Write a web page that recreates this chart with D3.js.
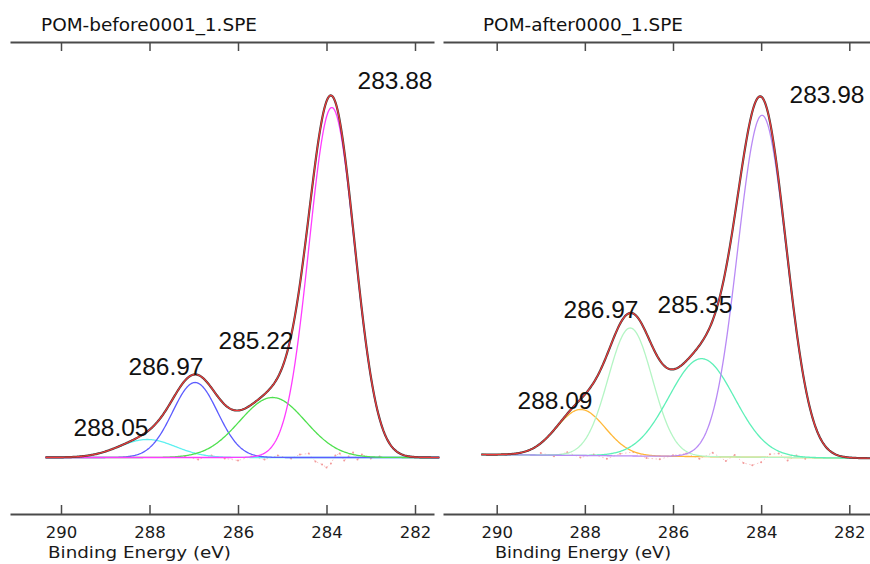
<!DOCTYPE html>
<html><head><meta charset="utf-8">
<script src="https://cdn.jsdelivr.net/npm/d3@7"></script>
<style>
html,body{margin:0;padding:0;background:#fff;}
svg{display:block;}
</style></head>
<body>
<svg id="chart" width="870" height="564"></svg>
<script>
// ---------------- data ----------------
const tickValues = [290, 288, 286, 284, 282];
const axisTitle = "Binding Energy (eV)";

const leftTitle = "POM-before0001_1.SPE";
const leftCenters = [283.88, 285.22, 286.97, 288.05];
const leftHeights = [350, 60, 75, 18];
const leftFwhm    = [1.21, 1.75, 1.2, 1.5];
const leftLabels  = ["283.88", "285.22", "286.97", "288.05"];
const leftColors  = ["#ff3cff", "#4fe04f", "#5c5cff", "#5ef0f0"];
const leftBgEnergy = [290.35, 281.4];
const leftBgValue  = [0, 0];
const leftResidE = [287.2, 286.9, 286.6, 286.3, 286.0, 285.7, 285.4, 285.1, 284.8, 284.6, 284.4, 284.25, 284.1, 284.0, 283.9, 283.8, 283.7, 283.6, 283.5, 283.4, 283.3, 283.2, 283.0, 282.8];
const leftResidV = [1, -2, 2, -1, -3, 1, -2, 2, -1, 3, 4, -4, -7, -10, -6, 2, 4, -3, 1, 5, -2, 3, -1, 1];

const rightTitle = "POM-after0000_1.SPE";
const rightCenters = [283.98, 285.35, 286.97, 288.09];
const rightHeights = [342, 98, 128, 46];
const rightFwhm    = [1.3, 1.75, 1.18, 1.3];
const rightLabels  = ["283.98", "285.35", "286.97", "288.09"];
const rightColors  = ["#b98af5", "#5ef0b8", "#b4f5c4", "#ffb838"];
const rightBgEnergy = [290.35, 281.5];
const rightBgValue  = [3.8, 0];
const rightResidE = [289.0, 288.7, 288.4, 288.1, 287.8, 287.5, 287.2, 286.9, 286.6, 286.3, 286.0, 285.7, 285.4, 285.1, 284.8, 284.6, 284.4, 284.2, 284.0, 283.8, 283.6, 283.4, 283.2, 283.0];
const rightResidV = [2, -1, 3, -2, 1, -3, 2, 4, -2, -3, 1, 3, -2, 4, -4, 2, -6, -8, -5, 3, 4, -3, 2, -1];

// ---------------- layout ----------------
const svg = d3.select("#chart");
const panels = [
  {title: leftTitle, centers: leftCenters, heights: leftHeights, fwhm: leftFwhm, labels: leftLabels, colors: leftColors,
   bgE: leftBgEnergy, bgV: leftBgValue, resE: leftResidE, resV: leftResidV,
   px290: 61, px282: 415, lineL: 10, lineR: 434, dataEnd: 281.45, base: 457.5,
   titleX: 41, titleLen: 216,
   labelPos: [[395, 89], [256, 349], [166, 375], [111, 436]],
   axisTitleX: 48, axisTitleLen: 183},
  {title: rightTitle, centers: rightCenters, heights: rightHeights, fwhm: rightFwhm, labels: rightLabels, colors: rightColors,
   bgE: rightBgEnergy, bgV: rightBgValue, resE: rightResidE, resV: rightResidV,
   px290: 496.7, px282: 849.3, lineL: 443, lineR: 870, dataEnd: 281.52, base: 458.3,
   titleX: 483, titleLen: 200,
   labelPos: [[827, 103], [695, 313], [601, 318], [555, 409]],
   axisTitleX: 495, axisTitleLen: 176}
];

panels.forEach(p => {
  const x0 = d3.scaleLinear().domain([290, 282]).range([p.px290, p.px282]);
  const x = d3.scaleLinear().domain([x0.invert(p.lineL), x0.invert(p.lineR)]).range([p.lineL, p.lineR]);
  const y = d3.scaleLinear().domain([0, 400]).range([p.base, p.base - 400]);
  const bg = d3.scaleLinear().domain(p.bgE).range(p.bgV).clamp(true);
  const g = svg.append("g");

  // title
  g.append("text").attr("x", p.titleX).attr("y", 31)
    .attr("font-family", "DejaVu Sans, sans-serif").attr("font-size", 17)
    .attr("fill", "#111").attr("textLength", p.titleLen).attr("lengthAdjust", "spacingAndGlyphs")
    .text(p.title);

  // top axis (ticks only)
  const topAx = g.append("g").attr("transform", "translate(0,42)")
    .call(d3.axisBottom(x).tickValues(tickValues).tickSizeInner(9).tickSizeOuter(0).tickFormat(""));
  // bottom axis
  const botAx = g.append("g").attr("transform", "translate(0,514)")
    .call(d3.axisBottom(x).tickValues(tickValues).tickSizeInner(-9).tickSizeOuter(0).tickPadding(12).tickFormat(d3.format("d")));
  [topAx, botAx].forEach(a => {
    a.select(".domain").attr("stroke", "#4a4a4a").attr("stroke-width", 1.8);
    a.selectAll(".tick line").attr("stroke", "#4a4a4a").attr("stroke-width", 1.5);
    a.selectAll("text").attr("font-family", "DejaVu Sans, sans-serif").attr("font-size", 16.5).attr("fill", "#1a1a1a");
  });

  g.append("text").attr("x", p.axisTitleX).attr("y", 558)
    .attr("font-family", "DejaVu Sans, sans-serif").attr("font-size", 16)
    .attr("fill", "#1a1a1a").attr("textLength", p.axisTitleLen).attr("lengthAdjust", "spacingAndGlyphs")
    .text(axisTitle);

  // curves
  const grid = d3.range(290.35, p.dataEnd, -0.02);
  const gauss = (e, i) => {
    const s = p.fwhm[i] / 2.3548;
    return p.heights[i] * Math.exp(-((e - p.centers[i]) ** 2) / (2 * s * s));
  };
  const line = d3.line().x(d => x(d[0])).y(d => y(d[1]));

  // residual dots
  const resData = p.resE.map((e, i) => [e, p.resV[i] + bg(e)]);
  g.append("path").datum(resData).attr("d", line).attr("fill", "none")
    .attr("stroke", "#f7b5b5").attr("stroke-width", 0.8).attr("stroke-dasharray", "1.5,2.5");
  g.selectAll(".res").data(resData).enter().append("circle")
    .attr("cx", d => x(d[0])).attr("cy", d => y(d[1])).attr("r", 1).attr("fill", "#f29a9a");

  // components (drawn in reverse so the main peak lies on top)
  d3.range(p.centers.length).reverse().forEach(i => {
    const pts = grid.map(e => [e, bg(e) + gauss(e, i)]);
    g.append("path").datum(pts).attr("d", line).attr("fill", "none")
      .attr("stroke", p.colors[i]).attr("stroke-width", 1.3);
  });

  // measured data (dark) and fitted envelope (red)
  const total = grid.map(e => [e, bg(e) + d3.sum(p.centers, (c, i) => gauss(e, i))]);
  g.append("path").datum(total).attr("d", line).attr("fill", "none")
    .attr("stroke", "#3c3c3c").attr("stroke-width", 2.2);
  g.append("path").datum(total).attr("d", line).attr("fill", "none")
    .attr("stroke", "#f03a3a").attr("stroke-width", 1.2);

  // peak labels
  p.labels.forEach((t, i) => {
    g.append("text").attr("x", p.labelPos[i][0]).attr("y", p.labelPos[i][1])
      .attr("text-anchor", "middle")
      .attr("font-family", "Liberation Sans, Arial, sans-serif").attr("font-size", 24.5)
      .attr("fill", "#111").text(t);
  });
});
</script>
</body></html>
